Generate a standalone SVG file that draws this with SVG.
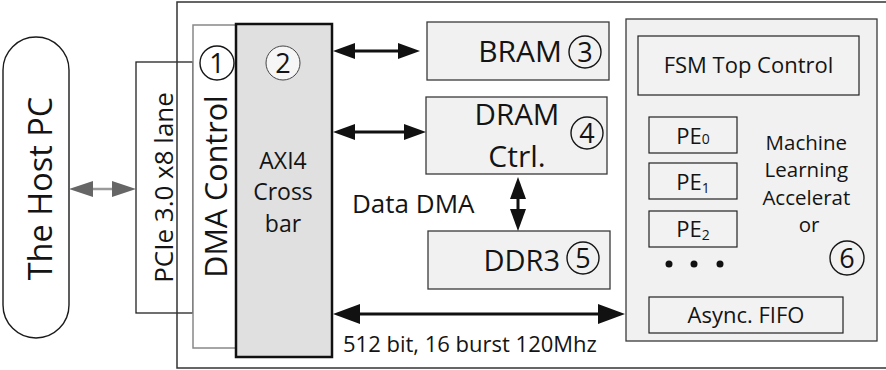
<svg xmlns="http://www.w3.org/2000/svg" width="886" height="370" viewBox="0 0 886 370">
  <style>
    text { font-family: "Open Sans", "Noto Sans", "DejaVu Sans", sans-serif; fill: #141414; }
    .box { fill: #f1f1f1; stroke: #3a3a3a; stroke-width: 1.3; }
    .inner { fill: #f2f2f2; stroke: #222; stroke-width: 1.2; }
    .num { fill: none; stroke: #151515; stroke-width: 1.4; }
    .digit { font-size: 27px; text-anchor: middle; }
    .bus { stroke: #111; stroke-width: 3; fill: none; }
  </style>
  <defs>
    <marker id="ah" markerUnits="userSpaceOnUse" markerWidth="22" markerHeight="16" refX="14" refY="8" orient="auto-start-reverse">
      <path d="M0,0 L22,8 L0,16 Z" fill="#111"/>
    </marker>
    <marker id="ahL" markerUnits="userSpaceOnUse" markerWidth="27" markerHeight="20" refX="18" refY="10" orient="auto-start-reverse">
      <path d="M0,0 L27,10 L0,20 Z" fill="#111"/>
    </marker>
    <marker id="ahG" markerUnits="userSpaceOnUse" markerWidth="24" markerHeight="16" refX="16" refY="8" orient="auto-start-reverse">
      <path d="M0,0 L24,8 L0,16 Z" fill="#666"/>
    </marker>
  </defs>

  <rect width="886" height="370" fill="#fff"/>

  <!-- host computer -->
  <g id="host">
    <rect x="3" y="37" width="66" height="301" rx="33" ry="33" fill="#fff" stroke="#1a1a1a" stroke-width="1.4"/>
    <text transform="translate(52,188.5) rotate(-90)" font-size="32.5" text-anchor="middle">The Host PC</text>
  </g>

  <!-- PCIe link -->
  <g id="pcie">
    <rect x="136" y="62" width="57" height="251" fill="none" stroke="#222" stroke-width="1.3"/>
    <text transform="translate(173,187.5) rotate(-90)" font-size="26" text-anchor="middle">PCIe 3.0 x8 lane</text>
  </g>

  <!-- FPGA board outline -->
  <g id="board">
    <rect x="177" y="2" width="720" height="366" fill="none" stroke="#333" stroke-width="1.5"/>
  </g>

  <!-- DMA controller -->
  <g id="dma">
    <rect x="193" y="25" width="43" height="323" fill="#fff" stroke="#888" stroke-width="1.5"/>
    <circle class="num" cx="217" cy="63" r="17"/>
    <text class="digit" x="217" y="73">1</text>
    <text transform="translate(227,186.5) rotate(-90)" font-size="30.5" text-anchor="middle">DMA Control</text>
  </g>

  <!-- AXI4 crossbar -->
  <g id="crossbar">
    <rect x="236" y="24" width="96" height="333" fill="#e0e0e0" stroke="#111" stroke-width="2.5"/>
    <circle cx="283" cy="63" r="17" fill="#f6f6f6" stroke="#444" stroke-width="1"/>
    <text class="digit" x="283" y="73">2</text>
    <text x="283" y="168.5" font-size="23" text-anchor="middle">AXI4</text>
    <text x="283" y="200" font-size="23" text-anchor="middle">Cross</text>
    <text x="283" y="231.5" font-size="23" text-anchor="middle">bar</text>
  </g>

  <!-- on-chip block RAM -->
  <g id="bram">
    <rect class="box" x="427" y="22" width="182" height="58"/>
    <text x="562" y="62" font-size="30" text-anchor="end">BRAM</text>
    <circle class="num" cx="585" cy="52" r="16"/>
    <text class="digit" x="585" y="62">3</text>
  </g>

  <!-- DRAM controller -->
  <g id="dram">
    <rect class="box" x="426" y="97" width="181" height="77"/>
    <text x="517" y="125" font-size="29.5" text-anchor="middle">DRAM</text>
    <text x="517" y="167" font-size="30" text-anchor="middle">Ctrl.</text>
    <circle class="num" cx="587" cy="133" r="16"/>
    <text class="digit" x="587" y="143">4</text>
  </g>

  <!-- external DDR3 memory -->
  <g id="ddr3">
    <rect class="box" x="428" y="231" width="182" height="58"/>
    <text x="560" y="271" font-size="29" text-anchor="end">DDR3</text>
    <circle class="num" cx="583" cy="258" r="16"/>
    <text class="digit" x="583" y="268">5</text>
  </g>

  <!-- machine learning accelerator -->
  <g id="accelerator">
    <rect class="box" x="626" y="19" width="251" height="322"/>
    <g id="fsm">
      <rect class="inner" x="638" y="36" width="221" height="59"/>
      <text x="748.5" y="73" font-size="22" text-anchor="middle">FSM Top Control</text>
    </g>
    <g id="pe0">
      <rect class="inner" x="649" y="117" width="88" height="36"/>
      <text x="693" y="144" font-size="22" text-anchor="middle">PE<tspan font-size="14">0</tspan></text>
    </g>
    <g id="pe1">
      <rect class="inner" x="649" y="163" width="88" height="36"/>
      <text x="693" y="190" font-size="22" text-anchor="middle">PE<tspan font-size="14" dy="3">1</tspan></text>
    </g>
    <g id="pe2">
      <rect class="inner" x="649" y="211" width="88" height="36"/>
      <text x="693" y="237" font-size="22" text-anchor="middle">PE<tspan font-size="14" dy="3">2</tspan></text>
    </g>
    <circle cx="669" cy="264" r="3.5" fill="#111"/>
    <circle cx="694" cy="264" r="3.5" fill="#111"/>
    <circle cx="720" cy="264" r="3.5" fill="#111"/>
    <text font-size="20.5" text-anchor="middle">
      <tspan x="809" y="150">Machine</tspan>
      <tspan x="809" y="177">Learning</tspan>
      <tspan x="809" y="205">Accelerat</tspan>
      <tspan x="809" y="232">or</tspan>
    </text>
    <circle class="num" cx="847" cy="258" r="17"/>
    <text class="digit" x="847" y="268">6</text>
    <g id="fifo">
      <rect class="inner" x="649" y="297" width="194" height="36"/>
      <text x="746" y="323" font-size="22" text-anchor="middle">Async. FIFO</text>
    </g>
  </g>

  <!-- connectors -->
  <g id="connectors">
    <line x1="77" y1="189" x2="128" y2="189" stroke="#9a9a9a" stroke-width="2.5" marker-start="url(#ahG)" marker-end="url(#ahG)"/>
    <line class="bus" x1="341" y1="51" x2="412" y2="51" marker-start="url(#ah)" marker-end="url(#ah)"/>
    <line class="bus" x1="341" y1="132" x2="418" y2="132" marker-start="url(#ah)" marker-end="url(#ah)"/>
    <line class="bus" x1="518" y1="185" x2="518" y2="223" marker-start="url(#ah)" marker-end="url(#ah)"/>
    <line class="bus" x1="342" y1="314" x2="616" y2="314" marker-start="url(#ahL)" marker-end="url(#ahL)"/>
    <text x="352" y="213" font-size="26">Data DMA</text>
    <text x="343" y="352" font-size="22">512 bit, 16 burst 120Mhz</text>
  </g>
</svg>
